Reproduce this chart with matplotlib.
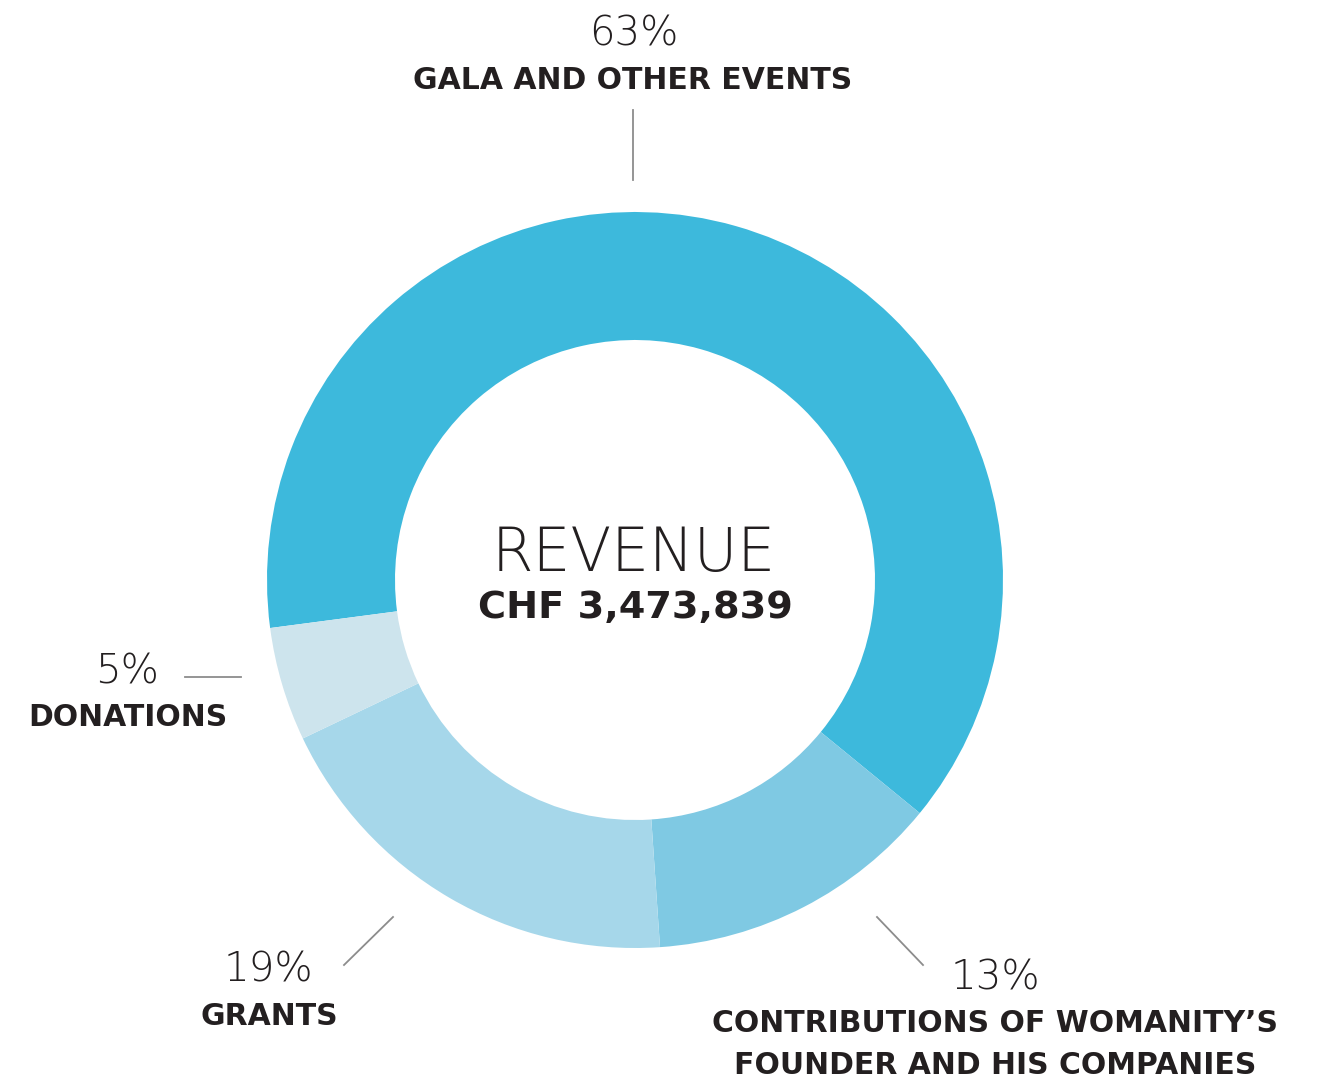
import matplotlib
matplotlib.use("Agg")
import matplotlib.pyplot as plt

W, H = 1326, 1083

categories = ["GALA AND OTHER EVENTS", "CONTRIBUTIONS OF WOMANITY\u2019S\nFOUNDER AND HIS COMPANIES", "GRANTS", "DONATIONS"]
values = [63, 13, 19, 5]
pct_labels = ["63%", "13%", "19%", "5%"]
colors = ["#3DB9DC", "#7FC9E3", "#A6D7EA", "#CDE4ED"]
center_title = "REVENUE"
center_value = "CHF 3,473,839"

TXT = "#231F20"
LINE = "#8C8C8C"

fig = plt.figure(figsize=(W / 100, H / 100), dpi=100)
ax = fig.add_axes([0, 0, 1, 1])

def Y(y):
    return H - y

ax.pie(values, colors=colors, startangle=187.5, counterclock=False,
       radius=368, center=(635, Y(580)), frame=True,
       wedgeprops=dict(width=128, linewidth=0))
ax.set_xlim(0, W)
ax.set_ylim(0, H)
ax.set_aspect("equal")
ax.axis("off")

light = dict(family="DejaVu Sans", weight=200, color=TXT)
bold = dict(family="DejaVu Sans", weight="bold", color=TXT)

PCT_FS = 29
LAB_FS = 21.5

# center
ax.text(634, Y(571), center_title, ha="center", va="baseline", fontsize=43, **light)
ax.text(635, Y(618), center_value, ha="center", va="baseline", fontsize=27.5, **bold)

# Gala
ax.text(633.5, Y(45), pct_labels[0], ha="center", va="baseline", fontsize=PCT_FS, **light)
ax.text(632.5, Y(89), categories[0], ha="center", va="baseline", fontsize=LAB_FS, **bold)
ax.plot([633, 633], [Y(110), Y(180)], color=LINE, lw=1.3)

# Donations
ax.text(127, Y(683), pct_labels[3], ha="center", va="baseline", fontsize=PCT_FS, **light)
ax.text(127.5, Y(726), categories[3], ha="center", va="baseline", fontsize=LAB_FS, **bold)
ax.plot([185, 241], [Y(677), Y(677)], color=LINE, lw=1.3)

# Grants
ax.text(268, Y(982), pct_labels[2], ha="center", va="baseline", fontsize=PCT_FS, **light)
ax.text(269, Y(1025), categories[2], ha="center", va="baseline", fontsize=LAB_FS, **bold)
ax.plot([344, 393], [Y(965), Y(917)], color=LINE, lw=1.3)

# Contributions
ax.text(995, Y(989), pct_labels[1], ha="center", va="baseline", fontsize=PCT_FS, **light)
ax.text(995.5, Y(1074), categories[1], ha="center", va="baseline", fontsize=LAB_FS,
        linespacing=1.58, **bold)
ax.plot([877, 923], [Y(917), Y(965)], color=LINE, lw=1.3)

fig.savefig("out.png", dpi=100, facecolor="white")
